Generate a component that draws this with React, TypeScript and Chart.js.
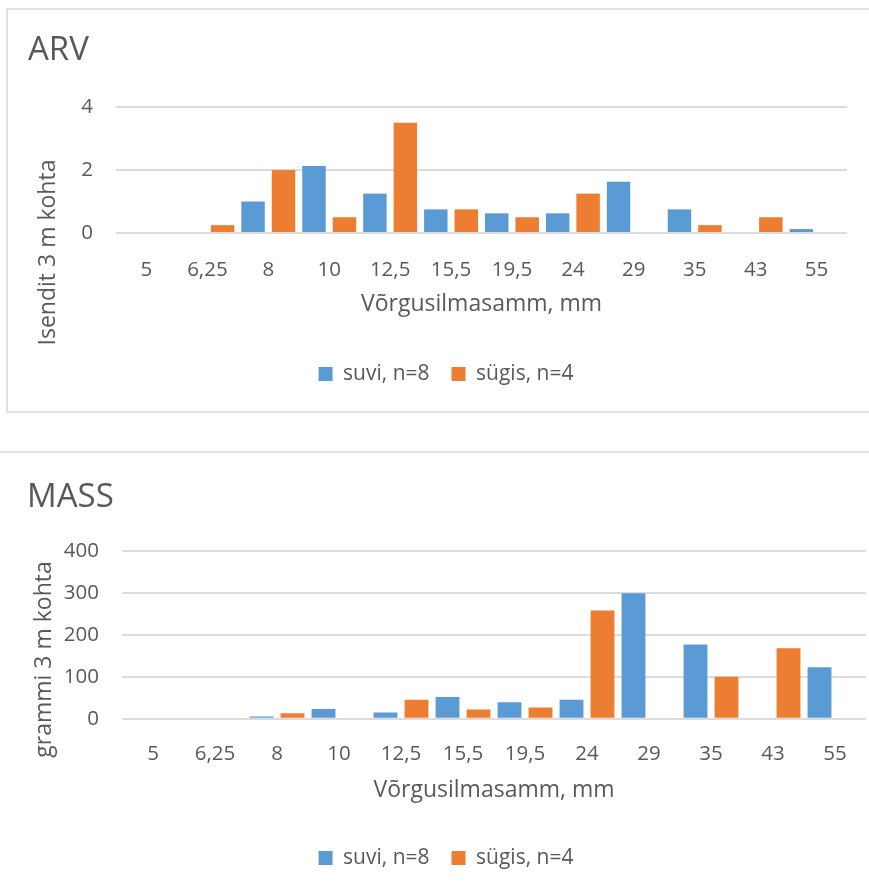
import React, { useEffect, useRef } from "react";
import { Chart, registerables } from "chart.js";

Chart.register(...registerables);

// ---------- data ----------
const categories = ["5", "6,25", "8", "10", "12,5", "15,5", "19,5", "24", "29", "35", "43", "55"];
const seriesNames = ["suvi, n=8", "sügis, n=4"];
const seriesColors = ["#5B9BD5", "#ED7D31"];

const arvSuvi = [0, 0, 1, 2.125, 1.25, 0.75, 0.625, 0.625, 1.625, 0.75, 0, 0.125];
const arvSygis = [0, 0.25, 2, 0.5, 3.5, 0.75, 0.5, 1.25, 0, 0.25, 0.5, 0];
const arvTicks = { min: 0, max: 4, step: 2 };

const massSuvi = [0, 0, 5, 23, 15, 52, 39, 45, 299, 177, 0, 123];
const massSygis = [0, 0, 13, 0, 45, 22, 27, 258, 0, 100, 168, 0];
const massTicks = { min: 0, max: 400, step: 100 };

const xTitle = "Võrgusilmasamm, mm";
const FONT = "'Open Sans', 'DejaVu Sans', sans-serif";
const TEXT = "#595959";
const GRID = "#dcdcdc";

type TextItem = { text: string; x: number; y: number; size: number; rotate?: number; align: CanvasTextAlign };

function textPlugin(items: TextItem[]) {
  return {
    id: "freeText",
    afterDraw(chart: any) {
      const ctx = chart.ctx as CanvasRenderingContext2D;
      for (const t of items) {
        ctx.save();
        ctx.translate(t.x, t.y);
        if (t.rotate) ctx.rotate(t.rotate);
        ctx.font = `${t.size}px ${FONT}`;
        ctx.fillStyle = TEXT;
        ctx.textAlign = t.align;
        ctx.textBaseline = "alphabetic";
        ctx.fillText(t.text, 0, 0);
        ctx.restore();
      }
    },
  };
}

type Spec = {
  suvi: number[];
  sygis: number[];
  ticks: { min: number; max: number; step: number };
  pad: { left: number; right: number; top: number; bottom: number };
  xHeight: number;
  xTickPad: number;
  xTitlePadBottom: number;
  yWidth: number;
  texts: TextItem[];
};

function makeConfig(s: Spec): any {
  return {
    type: "bar",
    data: {
      labels: categories,
      datasets: [
        { label: seriesNames[0], data: s.suvi, backgroundColor: seriesColors[0], borderWidth: 0, categoryPercentage: 1, barPercentage: 0.77 },
        { label: seriesNames[1], data: s.sygis, backgroundColor: seriesColors[1], borderWidth: 0, categoryPercentage: 1, barPercentage: 0.77 },
      ],
    },
    options: {
      responsive: false,
      animation: false,
      devicePixelRatio: 1,
      layout: { padding: s.pad },
      scales: {
        x: {
          grid: { display: false },
          border: { display: false },
          ticks: { padding: s.xTickPad, color: TEXT, font: { size: 20.5, family: FONT } },
          title: {
            display: true,
            text: xTitle,
            color: TEXT,
            font: { size: 23, family: FONT },
            padding: { top: 0, bottom: s.xTitlePadBottom },
          },
          afterFit: (sc: any) => {
            sc.height = s.xHeight;
          },
        },
        y: {
          min: s.ticks.min,
          max: s.ticks.max,
          ticks: { stepSize: s.ticks.step, padding: 23, color: TEXT, font: { size: 20.5, family: FONT } },
          grid: { color: GRID, lineWidth: 2, drawTicks: false },
          border: { display: false },
          afterFit: (sc: any) => {
            sc.width = s.yWidth;
          },
        },
      },
      plugins: {
        legend: {
          position: "bottom",
          labels: { boxWidth: 14, boxHeight: 14, padding: 22, color: TEXT, font: { size: 21, family: FONT } },
        },
        title: { display: false },
        tooltip: { enabled: false },
      },
    },
    plugins: [textPlugin(s.texts)],
  };
}

function ChartCanvas({ spec, width, height, top }: { spec: Spec; width: number; height: number; top: number }) {
  const ref = useRef<HTMLCanvasElement | null>(null);
  useEffect(() => {
    if (!ref.current) return;
    const chart = new Chart(ref.current, makeConfig(spec));
    return () => chart.destroy();
  }, []);
  return (
    <canvas
      ref={ref}
      width={width}
      height={height}
      style={{ position: "absolute", left: 0, top, width, height }}
    />
  );
}

const arvSpec: Spec = {
  suvi: arvSuvi,
  sygis: arvSygis,
  ticks: arvTicks,
  pad: { left: 45, right: 22, top: 107, bottom: 25.5 },
  xHeight: 108.5,
  xTickPad: 17,
  xTitlePadBottom: 23,
  yWidth: 71,
  texts: [
    { text: "ARV", x: 28, y: 60, size: 33, align: "left" },
    { text: "Isendit 3 m kohta", x: 55, y: 252.5, size: 23, rotate: -Math.PI / 2, align: "center" },
  ],
};

const massSpec: Spec = {
  suvi: massSuvi,
  sygis: massSygis,
  ticks: massTicks,
  pad: { left: 26, right: 3, top: 121, bottom: 15.5 },
  xHeight: 106.8,
  xTickPad: 15,
  xTitlePadBottom: 21.2,
  yWidth: 96,
  texts: [
    { text: "MASS", x: 27, y: 76.7, size: 33, align: "left" },
    { text: "grammi 3 m kohta", x: 50.5, y: 229.5, size: 23, rotate: -Math.PI / 2, align: "center" },
  ],
};

export default function App() {
  return (
    <div
      style={{
        position: "absolute",
        left: 0,
        top: 0,
        width: 869,
        height: 894,
        overflow: "hidden",
        background: "#ffffff",
      }}
    >
      <div
        style={{
          position: "absolute",
          left: 6,
          top: 8,
          width: 880,
          height: 405,
          boxSizing: "border-box",
          border: "2px solid #e2e2e2",
        }}
      />
      <div
        style={{
          position: "absolute",
          left: -10,
          top: 451,
          width: 900,
          height: 500,
          boxSizing: "border-box",
          border: "2px solid #e2e2e2",
        }}
      />
      <ChartCanvas spec={arvSpec} width={869} height={420} top={0} />
      <ChartCanvas spec={massSpec} width={869} height={464} top={430} />
    </div>
  );
}
